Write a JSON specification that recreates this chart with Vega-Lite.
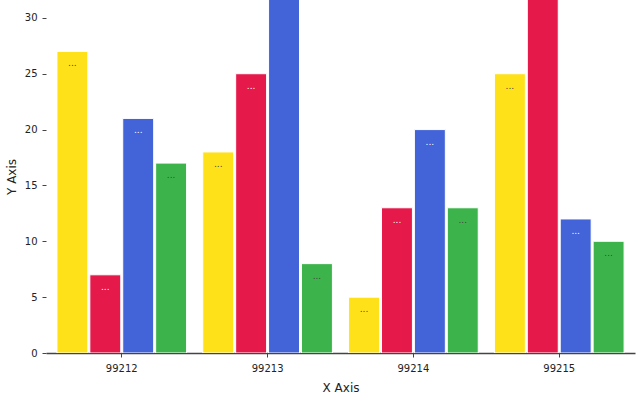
{
  "$schema": "https://vega.github.io/schema/vega-lite/v6.json",
  "width": 589,
  "height": 353,
  "autosize": {"type": "none"},
  "padding": {"left": 46, "top": 0, "right": 5, "bottom": 47},
  "background": "white",
  "config": {
    "view": {"stroke": null},
    "font": "DejaVu Sans",
    "axis": {"labelFont": "DejaVu Sans", "titleFont": "DejaVu Sans", "labelFontSize": 10, "titleFontSize": 12, "titleFontWeight": "normal", "labelColor": "#222", "titleColor": "#222", "grid": false}
  },
  "data": {
    "values": [
      {"code": "99212", "series": "A", "value": 27},
      {"code": "99212", "series": "B", "value": 7},
      {"code": "99212", "series": "C", "value": 21},
      {"code": "99212", "series": "D", "value": 17},
      {"code": "99213", "series": "A", "value": 18},
      {"code": "99213", "series": "B", "value": 25},
      {"code": "99213", "series": "C", "value": 34},
      {"code": "99213", "series": "D", "value": 8},
      {"code": "99214", "series": "A", "value": 5},
      {"code": "99214", "series": "B", "value": 13},
      {"code": "99214", "series": "C", "value": 20},
      {"code": "99214", "series": "D", "value": 13},
      {"code": "99215", "series": "A", "value": 25},
      {"code": "99215", "series": "B", "value": 35},
      {"code": "99215", "series": "C", "value": 12},
      {"code": "99215", "series": "D", "value": 10}
    ]
  },
  "encoding": {
    "x": {
      "field": "code", "type": "nominal",
      "scale": {"paddingInner": 0.111, "paddingOuter": 0.075},
      "axis": {"title": "X Axis", "labelAngle": 0, "domainColor": "#444", "domainWidth": 1.5, "tickColor": "#444", "tickSize": 4, "labelPadding": 6, "titlePadding": 9}
    },
    "xOffset": {"field": "series", "type": "nominal", "scale": {"paddingInner": 0.06, "paddingOuter": 0}},
    "y": {
      "field": "value", "type": "quantitative",
      "scale": {"domain": [0, 31.6], "nice": false, "zero": true},
      "axis": {"title": "Y Axis", "values": [0, 5, 10, 15, 20, 25, 30], "domain": false, "tickColor": "#444", "tickSize": 4, "labelPadding": 5, "titlePadding": 6}
    }
  },
  "layer": [
    {
      "mark": {"type": "bar", "clip": true, "stroke": "white", "strokeWidth": 1},
      "encoding": {
        "color": {"field": "series", "type": "nominal", "scale": {"domain": ["A", "B", "C", "D"], "range": ["#ffe119", "#e6194b", "#4363d8", "#3cb44b"]}, "legend": null}
      }
    },
    {
      "transform": [{"filter": "datum.value <= 31"}],
      "mark": {"type": "text", "text": "...", "dy": 12, "fontSize": 9, "baseline": "middle", "clip": true},
      "encoding": {
        "color": {"field": "series", "type": "nominal", "scale": {"domain": ["A", "B", "C", "D"], "range": ["#444444", "#ffffff", "#ffffff", "#444444"]}, "legend": null}
      }
    }
  ],
  "resolve": {"scale": {"color": "independent"}}
}
